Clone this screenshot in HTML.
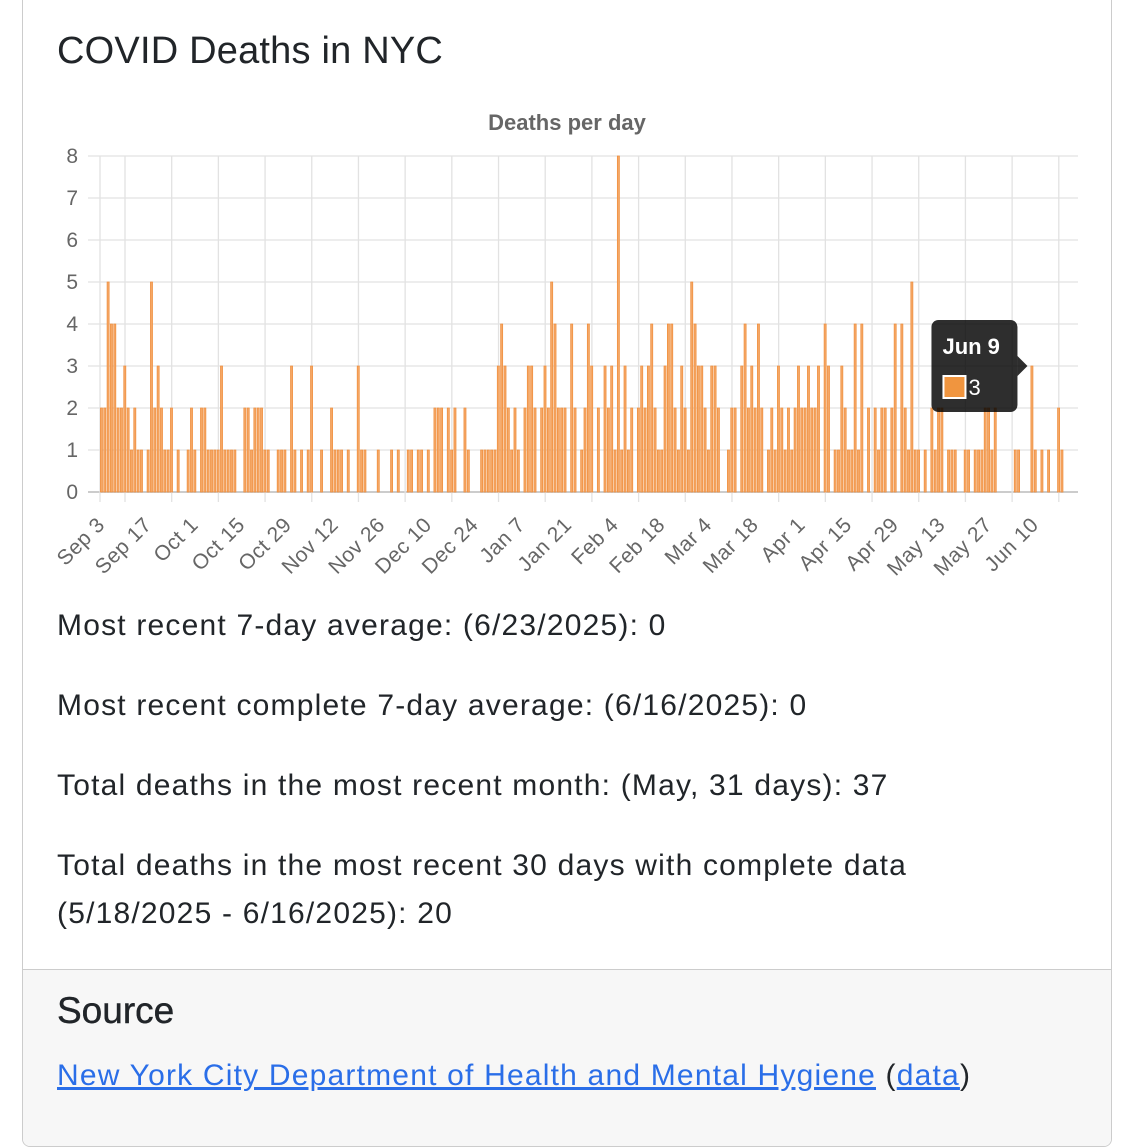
<!DOCTYPE html>
<html><head><meta charset="utf-8">
<style>
body{margin:0;width:1130px;height:1148px;background:#fff;font-family:"Liberation Sans",sans-serif;overflow:hidden;position:relative}
.card{position:absolute;left:22px;top:-10px;width:1088px;height:1155px;border:1px solid #ccc;border-radius:8px;background:#fff;overflow:hidden}
.foot{position:absolute;left:0;top:978px;width:100%;height:200px;background:#f7f7f7;border-top:1px solid #ccc}
h1{position:absolute;left:34px;top:39px;margin:0;font-size:38px;font-weight:normal;color:#212529;letter-spacing:0.2px}
.p{position:absolute;left:34px;font-size:30px;color:#212529;margin:0;line-height:34px;letter-spacing:1.2px}
h2{position:absolute;left:34px;margin:0;font-size:37px;font-weight:normal;color:#212529;-webkit-text-stroke:0.4px #212529}
a{color:#2a6ee8}
svg{position:absolute;left:0;top:0}
</style></head><body>
<div class="card">
<h1>COVID Deaths in NYC</h1>
<p class="p" style="top:618px">Most recent 7-day average: (6/23/2025): 0</p>
<p class="p" style="top:698px">Most recent complete 7-day average: (6/16/2025): 0</p>
<p class="p" style="top:778px">Total deaths in the most recent month: (May, 31 days): 37</p>
<p class="p" style="top:858px;line-height:48px;margin-top:-7px">Total deaths in the most recent 30 days with complete data<br>(5/18/2025 - 6/16/2025): 20</p>
<div class="foot">
<h2 style="top:20px">Source</h2>
<p class="p" style="top:89px"><a href="#">New York City Department of Health and Mental Hygiene</a> (<a href="#">data</a>)</p>
</div>
</div>
<svg id="chart" width="1130" height="600"></svg>
<script>
const values=[2,2,5,4,4,2,2,3,2,1, 2,1,1,0,1,5,2,3,2,1, 1,2,0,1,0,0,1,2,1,0, 2,2,1,1,1,1,3,1,1,1,
1,0,0,2,2,1,2,2,2,1, 1,0,0,1,1,1,0,3,1,0, 1,0,1,3,0,0,1,0,0,2, 1,1,1,0,1,0,0,3,1,1,
0,0,0,1,0,0,0,1,0,1, 0,0,1,1,0,1,1,0,1,0, 2,2,2,0,2,1,2,0,0,2, 1,0,0,0,1,1,1,1,1,3,
4,3,2,1,2,1,0,2,3,3, 2,0,2,3,2,5,4,2,2,2, 0,4,2,0,1,2,4,3,0,2, 0,3,2,3,1,8,1,3,1,2,
0,2,3,2,3,4,2,1,1,3, 4,4,2,1,3,2,1,5,4,3, 3,2,1,3,3,2,0,0,1,2, 2,0,3,4,2,3,2,4,2,0,
1,2,1,3,2,1,2,1,2,3, 2,2,3,2,2,3,0,4,3,0, 1,1,3,2,1,1,4,1,4,0, 2,0,2,1,2,2,0,2,4,0,
4,2,1,5,1,1,0,1,0,2, 1,2,2,0,1,1,1,0,0,1, 1,0,1,1,1,2,2,1,2,0, 0,0,0,0,1,1,0,0,0,3,
1,0,1,0,1,0,0,2,1,0, 0,0,0,0];
const tickLabels=["Sep 3","Sep 17","Oct 1","Oct 15","Oct 29","Nov 12","Nov 26","Dec 10","Dec 24","Jan 7","Jan 21","Feb 4","Feb 18","Mar 4","Mar 18","Apr 1","Apr 15","Apr 29","May 13","May 27","Jun 10"];
const yTicks=[0,1,2,3,4,5,6,7,8];
const tipIndex=279, tipLabel="Jun 9";
const NS="http://www.w3.org/2000/svg";
const svg=document.getElementById('chart');
const X0=100,DX=3.335,Y0=492,DY=42;
const xs=i=>X0+i*DX, ys=v=>Y0-v*DY;
function mk(t,a,p){const e=document.createElementNS(NS,t);for(const k in a)e.setAttribute(k,a[k]);(p||svg).appendChild(e);return e;}
let t=mk('text',{x:567,y:130,'text-anchor':'middle','font-size':22,'font-weight':'bold',fill:'#666','font-family':'Liberation Sans'});t.textContent='Deaths per day';


yTicks.forEach(v=>{
 const l=mk('line',{x1:88,x2:1078,y1:ys(v),y2:ys(v),stroke:v===0?'#ccc':'#e2e2e2','stroke-width':v===0?2:1.3});
 
 
 const tx=mk('text',{x:78,y:ys(v)+7,'text-anchor':'end','font-size':21,fill:'#666','font-family':'Liberation Sans'});tx.textContent=v;
 
 
});
const ax=mk('line',{x1:X0,x2:X0,y1:156,y2:502,stroke:'#e2e2e2','stroke-width':1.3});


tickLabels.forEach((s,k)=>{
 const d=xs(14*k);
 const gx=d+25;
 const g=mk('line',{x1:gx,x2:gx,y1:156,y2:502,stroke:'#e2e2e2','stroke-width':1.3});
 
 
 const tx=mk('text',{x:0,y:0,'text-anchor':'end','font-size':21,fill:'#666','font-family':'Liberation Sans','letter-spacing':'0.5',transform:`translate(${d+6},${526}) rotate(-45)`});tx.textContent=s;
 
 
});
values.forEach((v,i)=>{
 if(!v)return;
 const r=mk('rect',{x:xs(i)+0.4,y:ys(v),width:2.1,height:v*DY,fill:'#f5a766',stroke:'#ef8e3c','stroke-width':0.7});
 
 
});
const tg=mk('g',{});


const tipX=xs(tipIndex)-4, tipY=366;
mk('rect',{x:tipX-95,y:tipY-46,width:86,height:92,rx:7,fill:'rgba(0,0,0,0.82)'},tg);
mk('path',{d:`M${tipX-9},${tipY-10} L${tipX+1},${tipY} L${tipX-9},${tipY+10}Z`,fill:'rgba(0,0,0,0.82)'},tg);
let tt=mk('text',{x:tipX-84,y:tipY-12,'font-size':22,'font-weight':'bold',fill:'#fff','font-family':'Liberation Sans'},tg);tt.textContent=tipLabel;
mk('rect',{x:tipX-83,y:tipY+10,width:22,height:22,fill:'#f0953f',stroke:'#fff','stroke-width':2},tg);
let tv=mk('text',{x:tipX-58,y:tipY+29,'font-size':22,fill:'#fff','font-family':'Liberation Sans'},tg);tv.textContent=values[tipIndex];
</script>
</body></html>
